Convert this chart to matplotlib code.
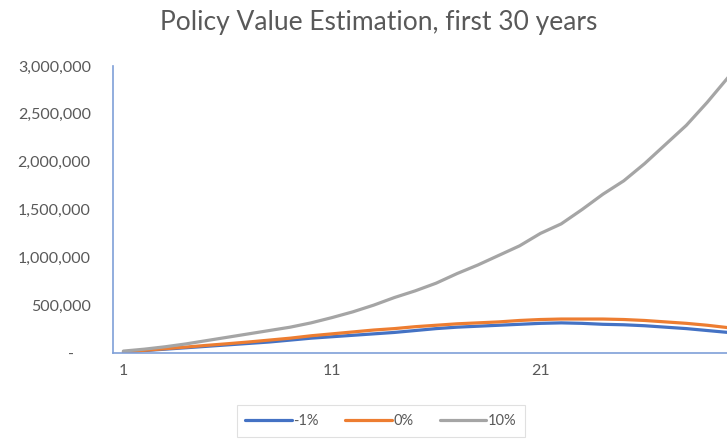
import matplotlib
matplotlib.use("Agg")
import matplotlib.pyplot as plt
from matplotlib.ticker import FuncFormatter

# Policy values by year, three growth scenarios
years = list(range(1, 31))
minus_1 = [10000, 25000, 40000, 55000, 70000, 85000, 100000, 115000, 135000, 155000,
           170000, 185000, 200000, 215000, 235000, 255000, 270000, 280000, 290000, 300000,
           310000, 315000, 310000, 300000, 295000, 285000, 270000, 255000, 235000, 215000]
zero_pct = [12000, 28000, 45000, 62000, 80000, 97000, 115000, 135000, 155000, 180000,
            200000, 220000, 240000, 255000, 275000, 290000, 305000, 315000, 325000, 340000,
            350000, 355000, 355000, 355000, 350000, 340000, 325000, 310000, 290000, 265000]
ten_pct = [20000, 40000, 65000, 95000, 130000, 165000, 200000, 235000, 270000, 315000,
           370000, 430000, 500000, 580000, 650000, 730000, 830000, 920000, 1020000, 1120000,
           1250000, 1350000, 1500000, 1660000, 1800000, 1980000, 2180000, 2380000, 2620000, 2880000]
series_labels = ["-1%", "0%", "10%"]
xtick_years = [1, 11, 21]

FONT = "Lato"
TEXT_GREY = "#595959"

fig = plt.figure(figsize=(7.27, 4.41), dpi=100)
ax = fig.add_axes([113 / 727, 88 / 441, 614 / 727, 287 / 441])

ax.plot(years, minus_1, color="#4472C4", lw=2.3, label=series_labels[0], solid_capstyle="round")
ax.plot(years, zero_pct, color="#ED7D31", lw=2.3, label=series_labels[1], solid_capstyle="round")
ax.plot(years, ten_pct, color="#A5A5A5", lw=2.3, label=series_labels[2], solid_capstyle="round")

ax.set_xlim(0.5, 29.95)
ax.set_ylim(0, 3000000)
ax.set_yticks(range(0, 3000001, 500000))
ax.set_xticks(xtick_years)

def money(v, pos):
    # accounting style: zero shows as a dash
    if v == 0:
        return "-    "
    return f"{v:,.0f}"

ax.yaxis.set_major_formatter(FuncFormatter(money))
ax.tick_params(axis="both", length=0, colors=TEXT_GREY, labelsize=11.5)
ax.tick_params(axis="y", pad=16)
ax.tick_params(axis="x", pad=8)
for lab in ax.get_xticklabels() + ax.get_yticklabels():
    lab.set_fontfamily(FONT)

for side in ("top", "right"):
    ax.spines[side].set_visible(False)
for side in ("left", "bottom"):
    ax.spines[side].set_color("#7FA0D8")
    ax.spines[side].set_linewidth(1.2)

fig.text(0.521, 0.95, "Policy Value Estimation, first 30 years", ha="center", va="center",
         fontsize=19, color=TEXT_GREY, fontfamily=FONT)

leg = fig.legend(loc="center", bbox_to_anchor=(381 / 727, 1 - 421 / 441), ncol=3,
                 frameon=True, fancybox=False, handlelength=3.2, handletextpad=0.1,
                 columnspacing=1.8, borderpad=0.6, prop={"family": FONT, "size": 10.5})
leg.get_frame().set_edgecolor("#D9D9D9")
leg.get_frame().set_linewidth(0.8)
for t in leg.get_texts():
    t.set_color(TEXT_GREY)

fig.savefig("out.png", dpi=100)
